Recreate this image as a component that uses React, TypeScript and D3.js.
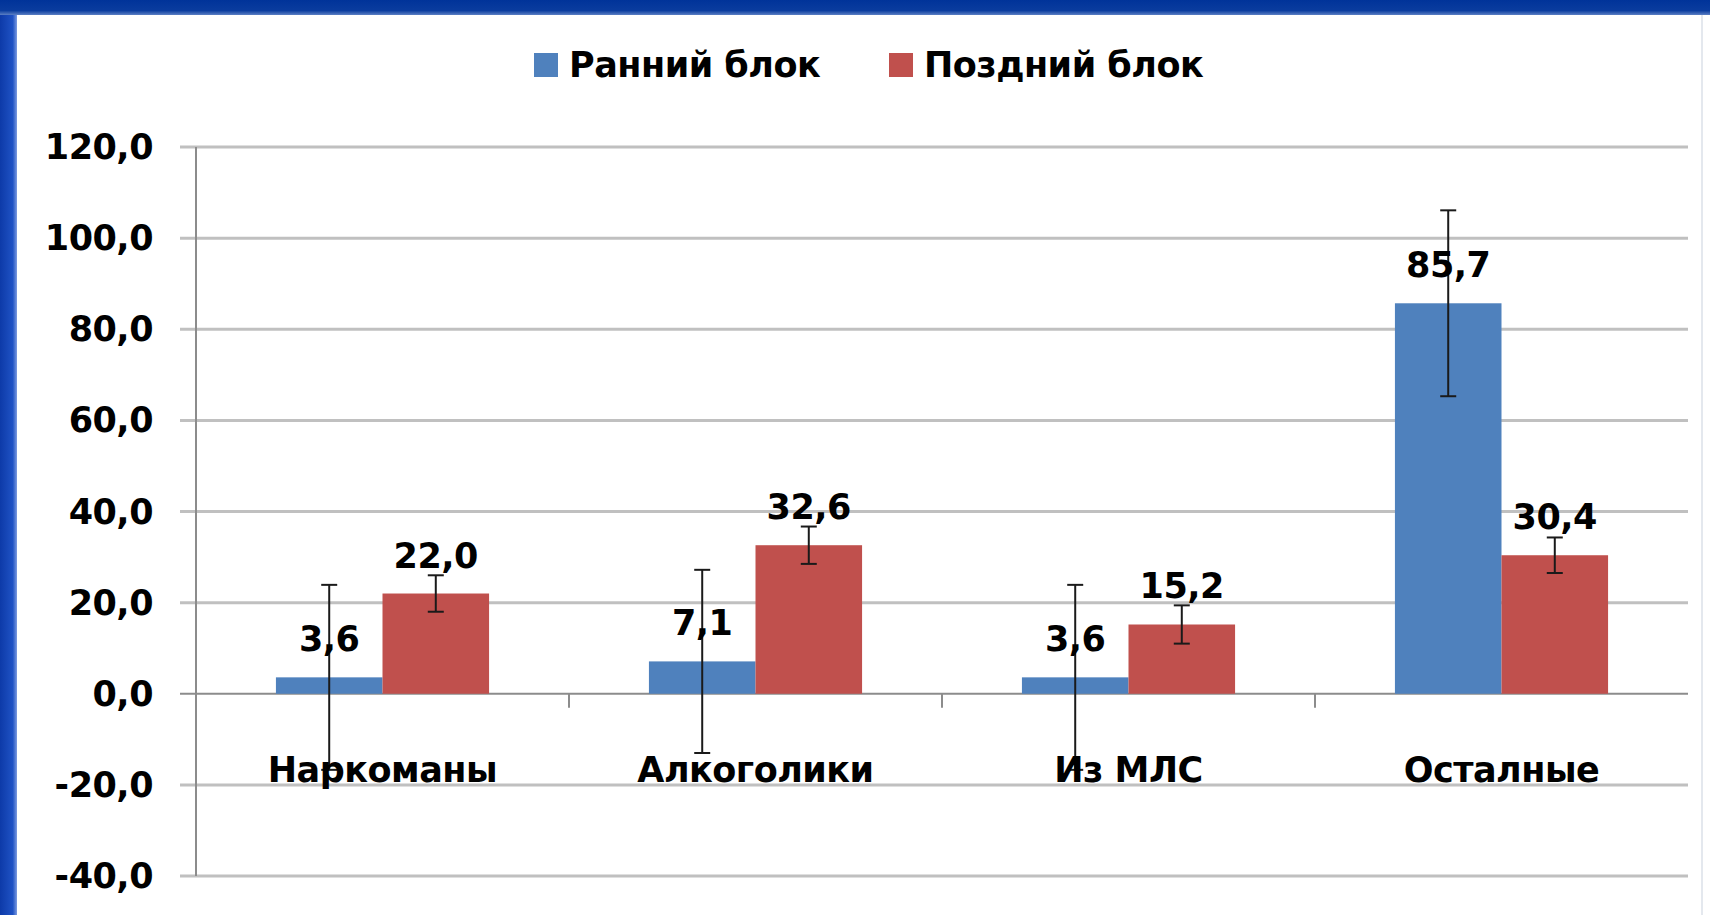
import * as d3 from "d3";

const categories = ["Наркоманы", "Алкоголики", "Из МЛС", "Осталные"];
const seriesNames = ["Ранний блок", "Поздний блок"];
const earlyValues = [3.6, 7.1, 3.6, 85.7];
const lateValues = [22.0, 32.6, 15.2, 30.4];
const earlyErrors = [20.3, 20.1, 20.3, 20.4];
const lateErrors = [4.0, 4.1, 4.2, 3.9];
const yTicks = [-40, -20, 0, 20, 40, 60, 80, 100, 120];

const W = 1710;
const H = 915;
const FONT = "'DejaVu Sans', sans-serif";

// virgule décimale, tiret simple pour le signe moins
const fmt = (v: number) => d3.format(".1f")(v).replace(".", ",").replace("\u2212", "-");

export default function App() {
  const x = d3.scaleBand<string>().domain(categories).range([196, 1688]).padding(0);
  const x1 = d3
    .scaleBand<string>()
    .domain(seriesNames)
    .range([0, x.bandwidth()])
    .paddingInner(0)
    .paddingOuter(0.75);
  const y = d3.scaleLinear().domain([-40, 120]).range([876, 147]);
  const colors = ["#4f81bd", "#c0504d"];
  const values = [earlyValues, lateValues];
  const errors = [earlyErrors, lateErrors];

  const bars = seriesNames.flatMap((s, si) =>
    categories.map((c, ci) => ({
      key: `${si}-${ci}`,
      x: x(c)! + x1(s)!,
      cx: x(c)! + x1(s)! + x1.bandwidth() / 2,
      v: values[si][ci],
      e: errors[si][ci],
      color: colors[si],
    }))
  );

  const textProps = {
    fontSize: 35,
    fontWeight: "bold",
    letterSpacing: -0.5,
    fill: "#000",
    dominantBaseline: "central",
  } as const;

  return (
    <svg
      width={W}
      height={H}
      style={{ position: "absolute", left: 0, top: 0, fontFamily: FONT }}
    >
      <defs>
        <linearGradient id="topBand" x1="0" y1="0" x2="0" y2="1">
          <stop offset="0%" stopColor="#003399" />
          <stop offset="70%" stopColor="#0a3c9e" />
          <stop offset="100%" stopColor="#5b7fc4" />
        </linearGradient>
        <linearGradient id="leftBand" x1="0" y1="0" x2="1" y2="0">
          <stop offset="0%" stopColor="#0d3aa8" />
          <stop offset="75%" stopColor="#1f52c4" />
          <stop offset="100%" stopColor="#7c9be0" />
        </linearGradient>
      </defs>
      <rect x={0} y={0} width={W} height={H} fill="#ffffff" />
      <rect x={0} y={0} width={17} height={H} fill="url(#leftBand)" />
      <rect x={0} y={0} width={W} height={15} fill="url(#topBand)" />
      <line x1={1702} x2={1702} y1={15} y2={H} stroke="#e4e8ee" strokeWidth={2} />

      {/* légende */}
      {seriesNames.map((s, i) => {
        const lx = [534, 889][i];
        return (
          <g key={s}>
            <rect x={lx} y={53} width={24} height={24} fill={colors[i]} />
            <text x={lx + 35} y={65} {...textProps}>
              {s}
            </text>
          </g>
        );
      })}

      {/* grille */}
      {yTicks.map((t) => (
        <line
          key={t}
          x1={180}
          x2={1688}
          y1={y(t)}
          y2={y(t)}
          stroke={t === 0 ? "#8c8c8c" : "#c0c0c0"}
          strokeWidth={t === 0 ? 2 : 3}
        />
      ))}
      {yTicks.map((t) => (
        <text key={"l" + t} x={153} y={y(t)} textAnchor="end" {...textProps}>
          {fmt(t)}
        </text>
      ))}

      {/* barres */}
      {bars.map((b) => (
        <rect
          key={b.key}
          x={b.x}
          y={y(b.v)}
          width={x1.bandwidth()}
          height={y(0) - y(b.v)}
          fill={b.color}
        />
      ))}

      {/* axes */}
      <line x1={196} x2={196} y1={y(120)} y2={y(-40)} stroke="#8c8c8c" strokeWidth={2} />
      {categories.slice(1).map((c) => (
        <line key={c} x1={x(c)!} x2={x(c)!} y1={y(0)} y2={y(0) + 14} stroke="#8c8c8c" strokeWidth={2} />
      ))}

      {/* barres d'erreur */}
      {bars.map((b) => (
        <g key={"e" + b.key} stroke="#1a1a1a" strokeWidth={2}>
          <line x1={b.cx} x2={b.cx} y1={y(b.v + b.e)} y2={y(b.v - b.e)} />
          <line x1={b.cx - 8} x2={b.cx + 8} y1={y(b.v + b.e)} y2={y(b.v + b.e)} />
          <line x1={b.cx - 8} x2={b.cx + 8} y1={y(b.v - b.e)} y2={y(b.v - b.e)} />
        </g>
      ))}

      {/* étiquettes de données */}
      {bars.map((b) => (
        <text key={"t" + b.key} x={b.cx} y={y(b.v) - 38} textAnchor="middle" {...textProps}>
          {fmt(b.v)}
        </text>
      ))}

      {/* catégories */}
      {categories.map((c) => (
        <text key={"c" + c} x={x(c)! + x.bandwidth() / 2} y={770} textAnchor="middle" {...textProps}>
          {c}
        </text>
      ))}
    </svg>
  );
}
